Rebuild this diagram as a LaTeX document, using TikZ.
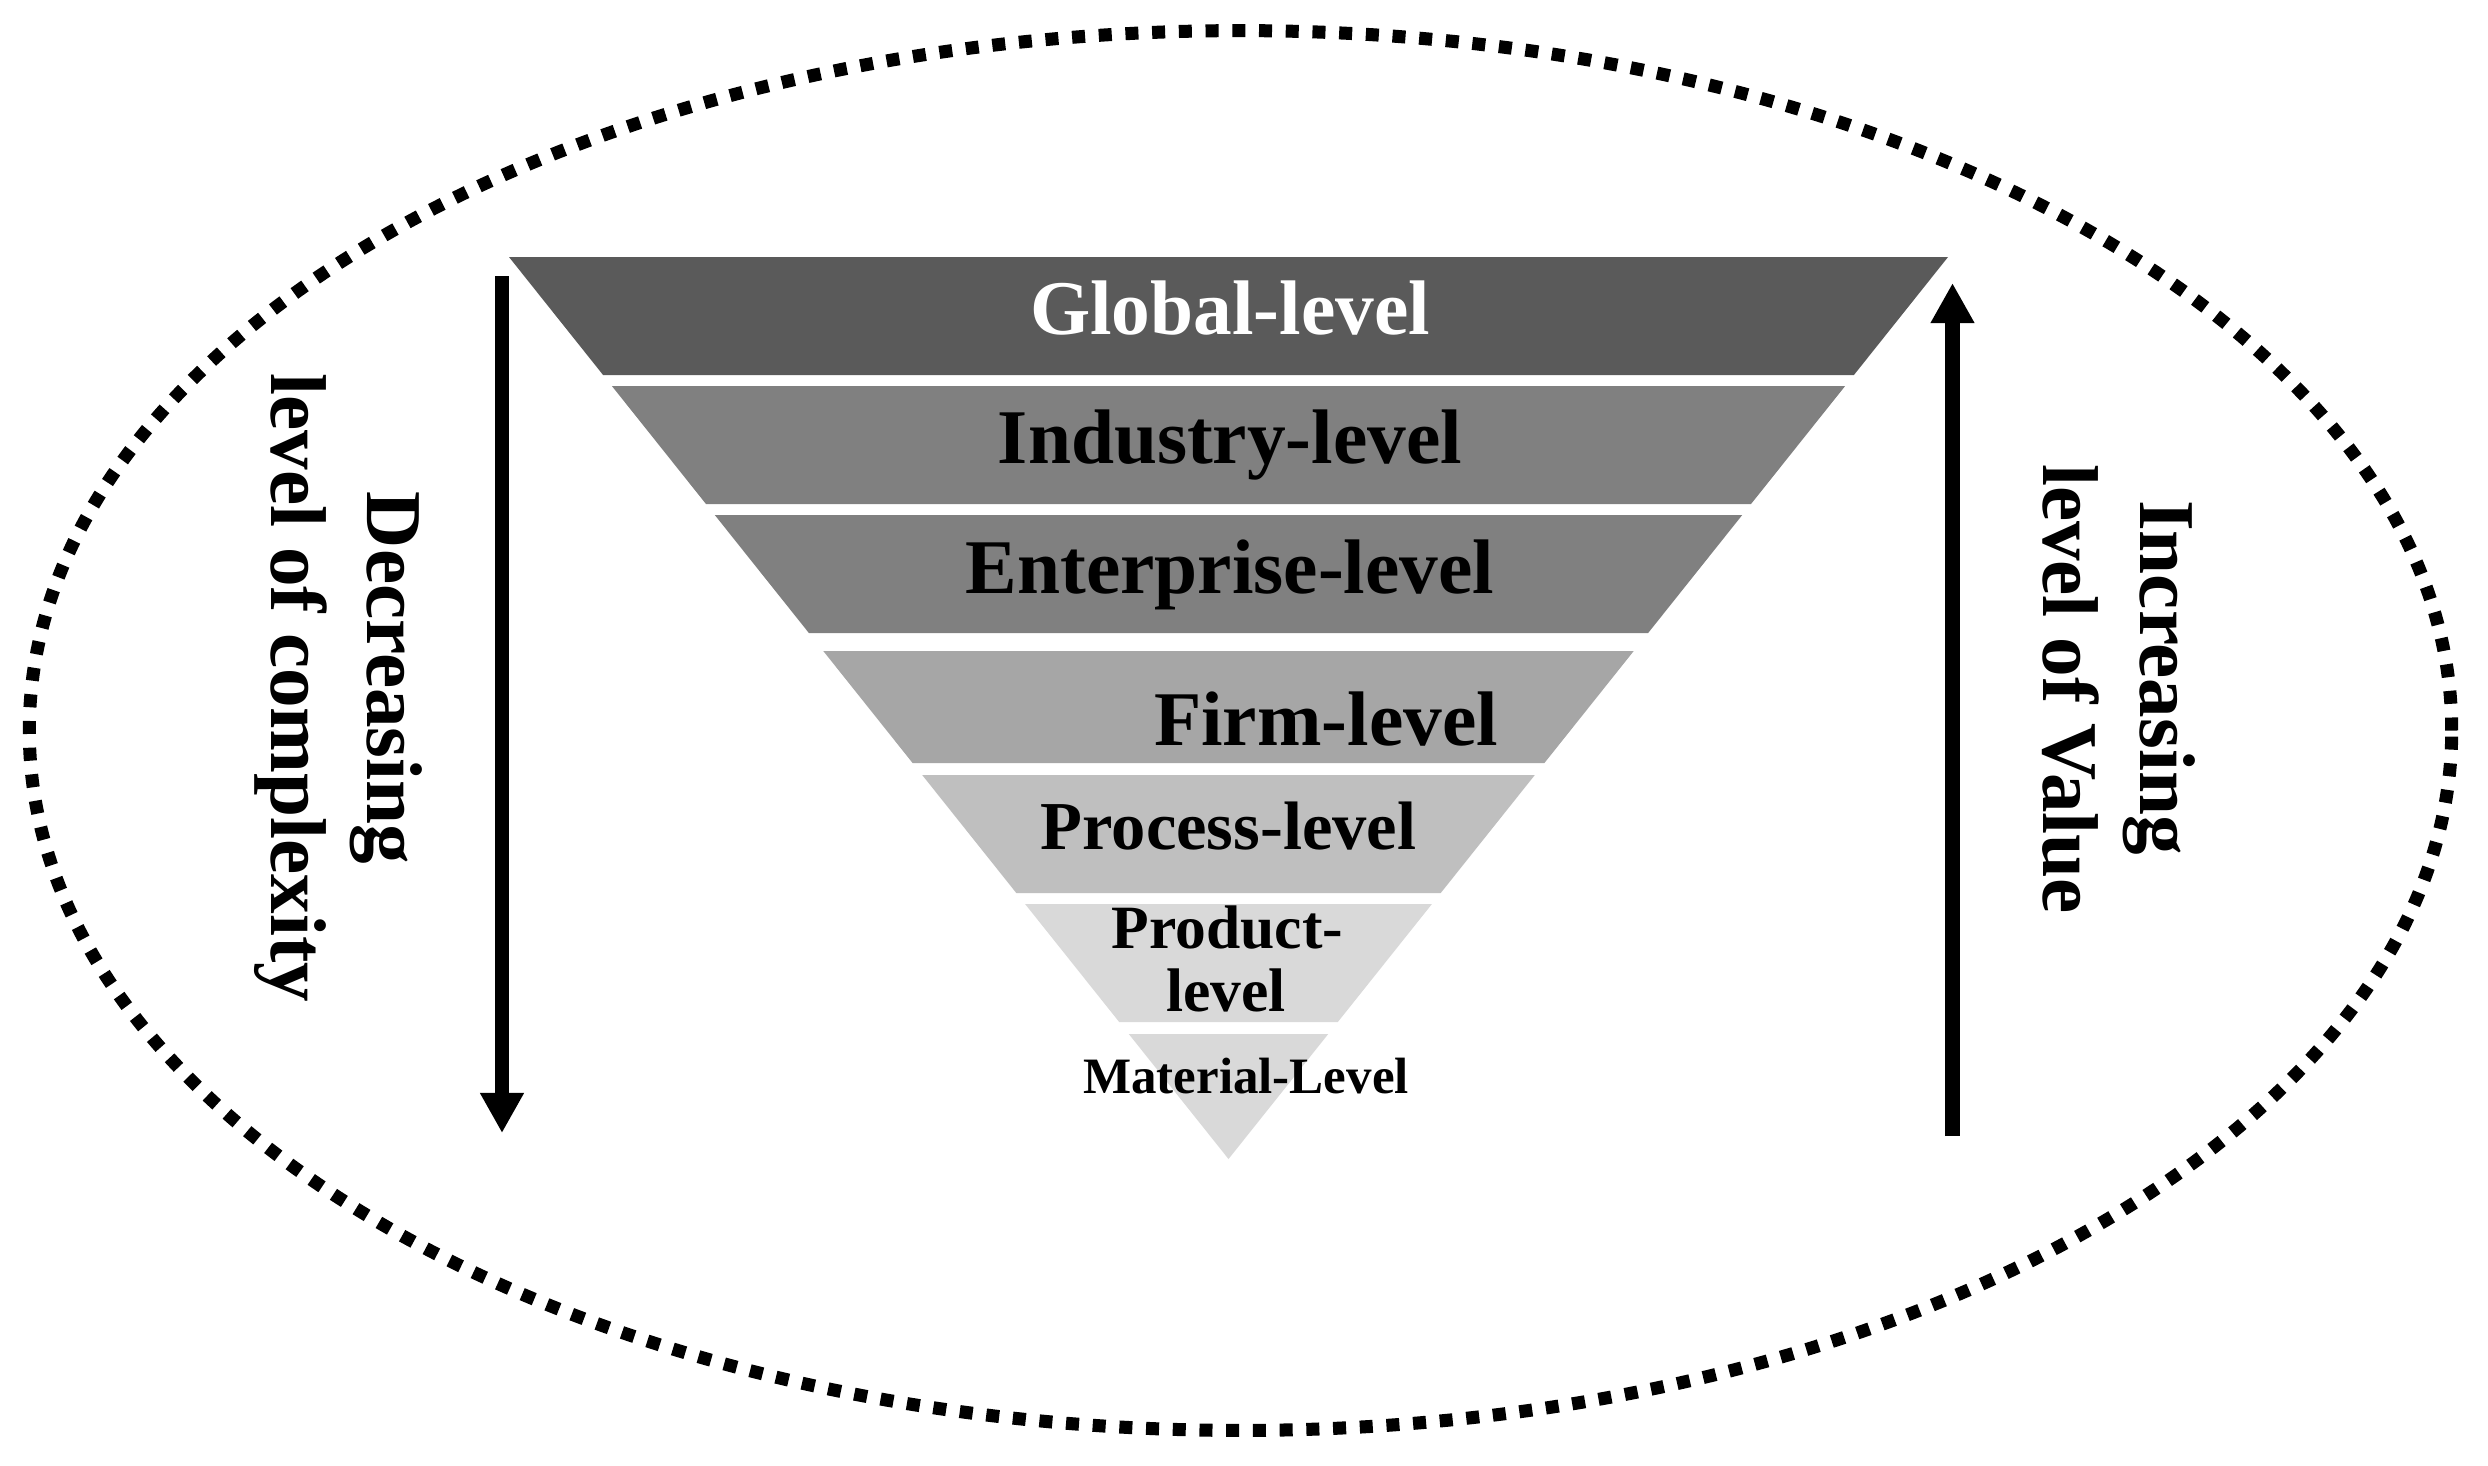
\documentclass[tikz,border=0pt]{standalone}
\usepackage{fontspec}
\setmainfont{Liberation Serif}
\usetikzlibrary{arrows.meta}
\definecolor{gA}{RGB}{90,90,90}
\definecolor{gB}{RGB}{128,128,128}
\definecolor{gC}{RGB}{166,166,166}
\definecolor{gD}{RGB}{191,191,191}
\definecolor{gE}{RGB}{217,217,217}
\tikzset{
  lbl/.style={anchor=base, inner sep=0pt, font=\bfseries\fontsize{22}{24}\selectfont},
  sidetxt/.style={anchor=base, inner sep=0pt, rotate=-90, font=\bfseries\fontsize{22.5}{26}\selectfont},
  bigarrow/.style={line width=4pt, -{Triangle[width=11.7pt,length=11.4pt]}},
  dotline/.style={line width=3.7pt, dash pattern=on 3.7pt off 3.9pt},
}
\begin{document}
\begin{tikzpicture}[x={(0.01cm,0)}, y={(0,-0.01cm)}]
\useasboundingbox (0,0) rectangle (2488,1465);
\fill[white] (0,0) rectangle (2488,1465);
% outer dotted ellipse
\coordinate (ec) at (1240.5,730.5);
\draw[dotline] (ec) ellipse [x radius=12.105cm, y radius=6.995cm];
% pyramid bands
\fill[gA] (509,257) -- (1948,257) -- (1853.9,375) -- (603.1,375) -- cycle;
\fill[gB] (611.9,386) -- (1845.1,386) -- (1751.0,504) -- (706.0,504) -- cycle;
\fill[gB] (714.8,515) -- (1742.2,515) -- (1648.1,633) -- (808.9,633) -- cycle;
\fill[gC] (823.3,651) -- (1633.7,651) -- (1544.4,763) -- (912.6,763) -- cycle;
\fill[gD] (922.2,775) -- (1534.8,775) -- (1440.7,893) -- (1016.3,893) -- cycle;
\fill[gE] (1025.1,904) -- (1431.9,904) -- (1337.8,1022) -- (1119.2,1022) -- cycle;
\fill[gE] (1128.8,1034) -- (1328.2,1034) -- (1228.5,1159) -- cycle;
% labels
\node[lbl, text=white] (global) at (1230,334) {Global-level};
\node[lbl] (industry) at (1230,463) {Industry-level};
\node[lbl] (enterprise) at (1230,593) {Enterprise-level};
\node[lbl] (firm) at (1326,745) {Firm-level};
\node[lbl, font=\bfseries\fontsize{19.5}{22}\selectfont] (process) at (1228.5,849) {Process-level};
\node[lbl, font=\bfseries\fontsize{17.5}{20}\selectfont] (product1) at (1227.5,948) {Product-};
\node[lbl, font=\bfseries\fontsize{17.5}{20}\selectfont] (product2) at (1226,1011) {level};
\node[lbl, font=\bfseries\fontsize{14.5}{17}\selectfont] (material) at (1246,1093) {Material-Level};
% side texts
\node[sidetxt] (dec1) at (367,678) {Decreasing};
\node[sidetxt] (dec2) at (271,688) {level of complexity};
\node[sidetxt] (inc1) at (2140,677.5) {Increasing};
\node[sidetxt] (inc2) at (2043,689) {level of Value};
% arrows
\coordinate (la1) at (502,276);
\coordinate (la2) at (502,1133);
\coordinate (ra1) at (1952.5,1136);
\coordinate (ra2) at (1952.5,283);
\draw[bigarrow] (la1) -- (la2);
\draw[bigarrow] (ra1) -- (ra2);
\end{tikzpicture}
\end{document}
